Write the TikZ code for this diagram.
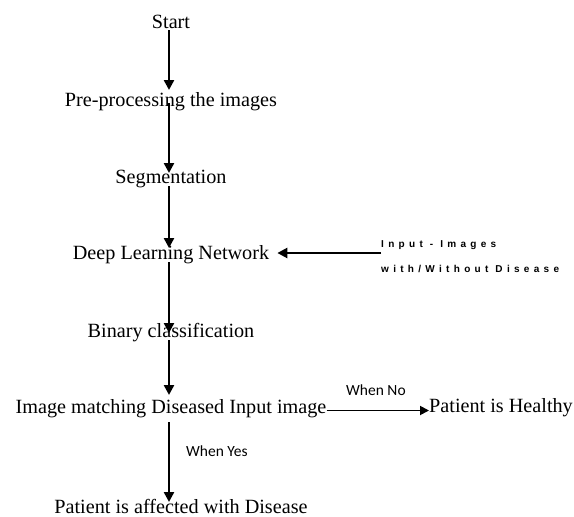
\documentclass[tikz,border=0pt]{standalone}
\usepackage{fontspec}
\setmainfont{Liberation Serif}
\newfontfamily\carl{Carlito}
\newfontfamily\spacedsans[LetterSpace=43]{Liberation Sans}
\usetikzlibrary{arrows.meta}
\begin{document}
\begin{tikzpicture}[x=1pt,y=-1pt,
  lbl/.style={inner sep=0pt, anchor=base, font=\fontsize{20.2}{24}\selectfont},
  arr/.style={line width=2.4pt, -{Triangle[length=10pt,width=10pt]}},
  harr/.style={line width=1.8pt, -{Triangle[length=9pt,width=9pt]}},
  note/.style={inner sep=0pt, anchor=base west, font=\carl\fontsize{15.5}{18}\selectfont},
  inlbl/.style={inner sep=0pt, anchor=base west, font=\spacedsans\bfseries\fontsize{10}{12}\selectfont}]
\useasboundingbox (0,0) rectangle (574,517);
\fill[white] (0,0) rectangle (574,517);
\node[lbl] (start) at (171,28) {Start};
\node[lbl] (pre) at (171,106) {Pre-processing the images};
\node[lbl] (seg) at (171,183) {Segmentation};
\node[lbl] (dln) at (171,259) {Deep Learning Network};
\node[lbl] (bin) at (171,337) {Binary classification};
\node[lbl] (img) at (171,413) {Image matching Diseased Input image};
\node[lbl, anchor=base west] (healthy) at (429,412) {Patient is Healthy};
\node[lbl] (affected) at (181,513) {Patient is affected with Disease};
\node[inlbl] (in1) at (381,247) {Input - Images};
\node[inlbl] (in2) at (381,272) {with/Without Disease};
\node[note] (no) at (346,395) {When No};
\node[note] (yes) at (186,456) {When Yes};
\coordinate (ax) at (169,0);
\coordinate (instart) at ([yshift=-6pt]in1.base west);
\coordinate (inend) at ([xshift=8pt]dln.east);
\draw[arr] ([yshift=-2pt]start.base -| ax) -- ([yshift=16pt]pre.base -| ax);
\draw[arr] ([yshift=3pt]pre.base -| ax) -- ([yshift=10pt]seg.base -| ax);
\draw[arr] ([yshift=-3pt]seg.base -| ax) -- ([yshift=11pt]dln.base -| ax);
\draw[arr] ([yshift=-3pt]dln.base -| ax) -- ([yshift=4pt]bin.base -| ax);
\draw[arr] ([yshift=-3pt]bin.base -| ax) -- ([yshift=18pt]img.base -| ax);
\draw[arr] ([yshift=-9pt]img.base -| ax) -- ([yshift=11pt]affected.base -| ax);
\draw[harr] ([yshift=2.5pt]img.base east) -- ([yshift=1.5pt]healthy.base west);
\draw[arr] (instart) -- (inend |- instart);
\end{tikzpicture}
\end{document}
